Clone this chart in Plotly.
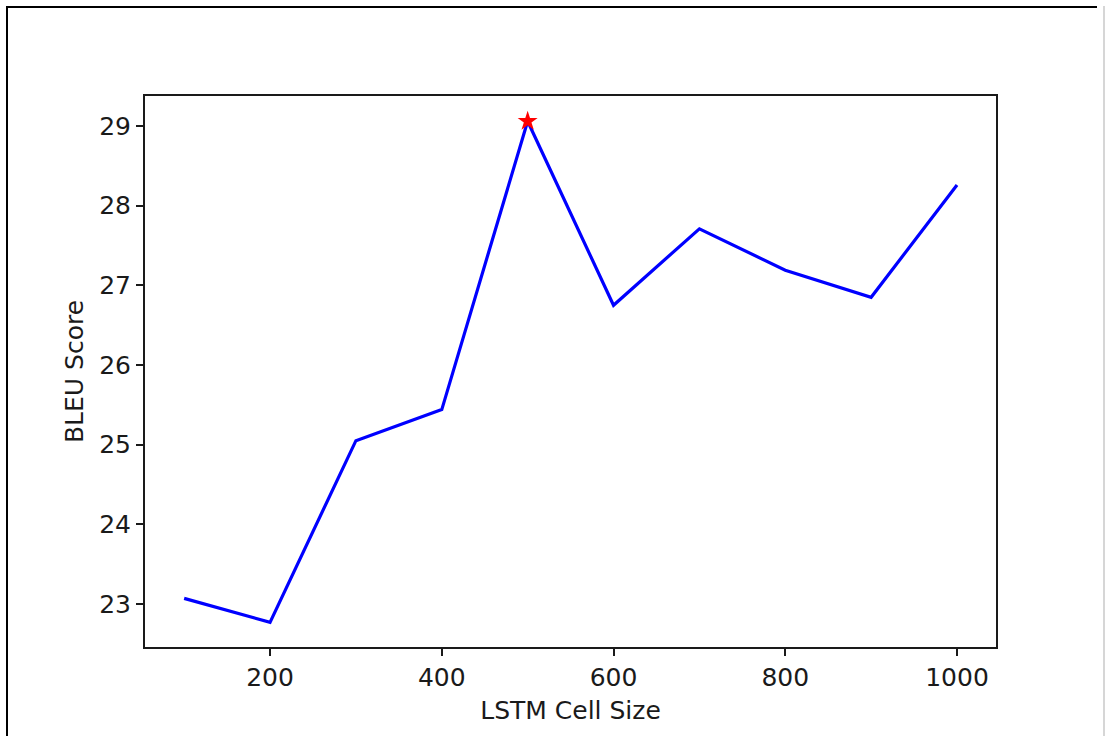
import plotly.graph_objects as go

cell_sizes = [100, 200, 300, 400, 500, 600, 700, 800, 900, 1000]
bleu_scores = [23.07, 22.77, 25.05, 25.44, 29.06, 26.75, 27.71, 27.19, 26.85, 28.26]
best_size = [500]
best_score = [29.06]
x_ticks = [200, 400, 600, 800, 1000]
y_ticks = [23, 24, 25, 26, 27, 28, 29]

W, H = 1105, 736
L, R, T, B = 145, 109, 96, 89
pw, ph = W - L - R, H - T - B

def px_x(p):
    return (p - L) / pw

def px_y(p):
    return (H - B - p) / ph

FS = 25
fig = go.Figure()
fig.add_trace(go.Scatter(x=cell_sizes, y=bleu_scores, mode="lines",
                         line=dict(color="#0000ff", width=3.2), showlegend=False))
fig.add_trace(go.Scatter(x=best_size, y=best_score, mode="markers",
                         marker=dict(symbol="star", color="#ff0000", size=15,
                                     line=dict(width=0)), showlegend=False))

axis_common = dict(showline=True, mirror=True, linecolor="#1a1a1a", linewidth=2,
                   ticks="outside", ticklen=7, tickwidth=2, tickcolor="#1a1a1a",
                   showgrid=False, zeroline=False,
                   tickfont=dict(family="DejaVu Sans", size=FS, color="#1a1a1a"))

fig.update_layout(
    width=W, height=H,
    margin=dict(l=L, r=R, t=T, b=B),
    paper_bgcolor="white", plot_bgcolor="white",
    font=dict(family="DejaVu Sans", size=FS, color="#1a1a1a"),
    xaxis=dict(range=[54.4, 1045.4], tickvals=x_ticks,
               title=dict(text="LSTM Cell Size", standoff=10,
                          font=dict(family="DejaVu Sans", size=FS, color="#1a1a1a")),
               **axis_common),
    yaxis=dict(range=[22.46, 29.377], tickvals=y_ticks,
               title=dict(text="BLEU Score", standoff=8,
                          font=dict(family="DejaVu Sans", size=FS, color="#1a1a1a")),
               **axis_common),
    shapes=[
        dict(type="line", xref="paper", yref="paper", x0=px_x(7), x1=px_x(7),
             y0=px_y(6), y1=px_y(740), line=dict(color="black", width=2)),
        dict(type="line", xref="paper", yref="paper", x0=px_x(6), x1=px_x(1097),
             y0=px_y(7), y1=px_y(7), line=dict(color="black", width=2)),
        dict(type="line", xref="paper", yref="paper", x0=px_x(1104), x1=px_x(1104),
             y0=px_y(6), y1=px_y(740), line=dict(color="#c8c8c8", width=1.5)),
    ],
)

fig.write_html("out.html", config={"displayModeBar": False},
               post_script="document.body.style.margin='0';document.body.style.overflow='hidden';")
